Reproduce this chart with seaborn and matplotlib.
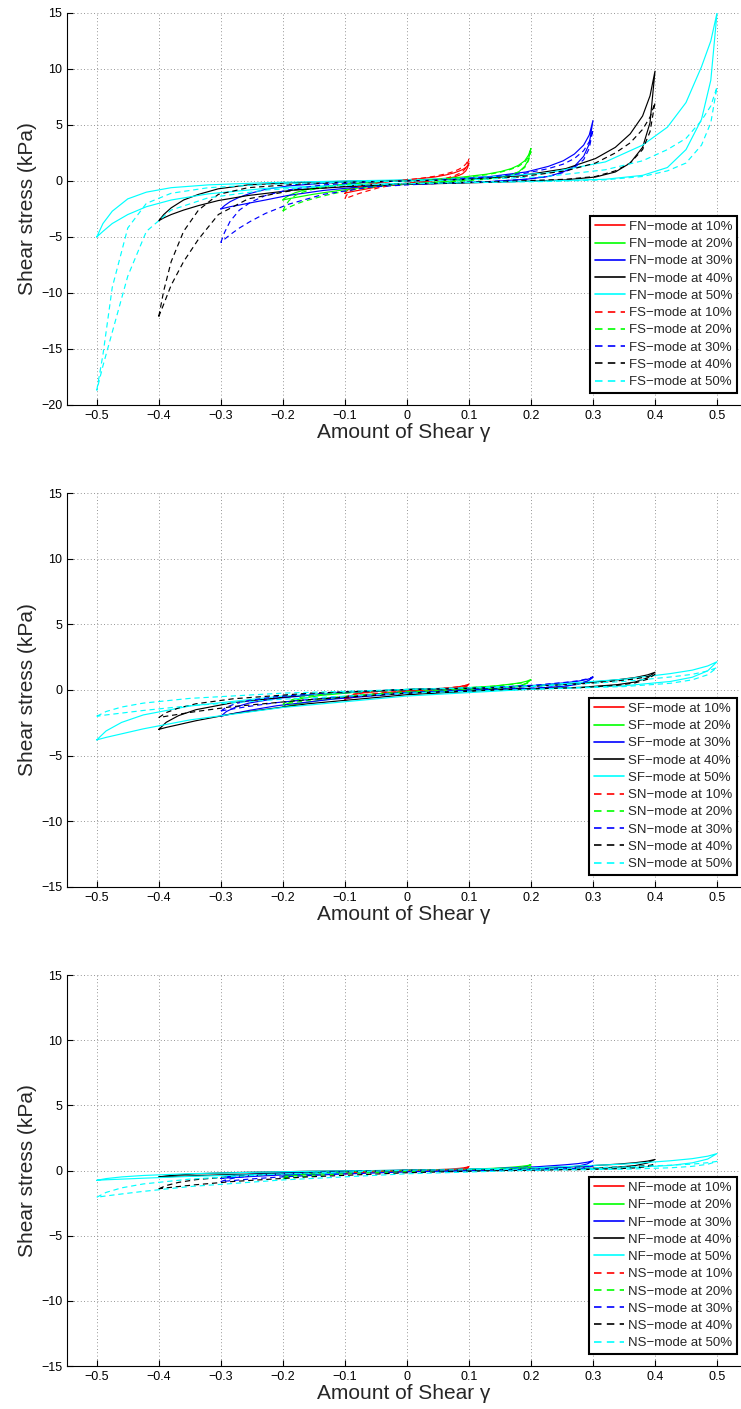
import pandas as pd
import seaborn as sns
import matplotlib.pyplot as plt

amplitudes = [0.1, 0.2, 0.3, 0.4, 0.5]
pct_labels = ['10%', '20%', '30%', '40%', '50%']
colors = ['#ff0000', '#00ff00', '#0000ff', '#000000', '#00ffff']
# where each loop was read, as a fraction of its strain amplitude
frac_fine = [-1, -0.98, -0.95, -0.9, -0.84, -0.76, -0.64, -0.45, -0.2, 0,
             0.2, 0.45, 0.64, 0.76, 0.84, 0.9, 0.95, 0.98, 1]
frac = [-1, -0.97, -0.92, -0.85, -0.7, -0.4, 0, 0.4, 0.7, 0.85, 0.92, 0.97, 1]

# panel 1: FN (solid) / FS (dashed), kPa, upper = loading branch, lower = unloading
fn_upper = [
    [-1.1, -0.95, -0.8, -0.65, -0.52, -0.42, -0.3, -0.15, 0.0, 0.1, 0.2, 0.35, 0.55, 0.72, 0.88, 1.02, 1.2, 1.38, 1.6],
    [-1.7, -1.5, -1.3, -1.05, -0.85, -0.65, -0.45, -0.25, -0.05, 0.05, 0.15, 0.35, 0.6, 0.85, 1.1, 1.4, 1.8, 2.3, 2.9],
    [-2.5, -2.2, -1.85, -1.45, -1.1, -0.75, -0.45, -0.2, 0.0, 0.05, 0.15, 0.4, 0.8, 1.3, 1.8, 2.4, 3.2, 4.1, 5.4],
    [-3.55, -3.0, -2.4, -1.7, -1.2, -0.7, -0.35, -0.15, 0.0, 0.05, 0.15, 0.45, 1.1, 2.0, 3.0, 4.2, 5.8, 7.6, 9.8],
    [-5.0, -3.8, -2.7, -1.6, -1.0, -0.6, -0.35, -0.15, 0.0, 0.1, 0.25, 0.7, 1.7, 3.2, 4.8, 7.0, 10.2, 12.5, 15.0],
]
fn_lower = [
    [-1.1, -1.07, -1.03, -0.97, -0.9, -0.82, -0.7, -0.5, -0.3, -0.2, -0.1, 0.05, 0.2, 0.35, 0.5, 0.65, 0.9, 1.2, 1.6],
    [-1.7, -1.65, -1.58, -1.48, -1.36, -1.2, -1.0, -0.7, -0.4, -0.25, -0.12, 0.05, 0.2, 0.35, 0.55, 0.8, 1.3, 1.9, 2.9],
    [-2.5, -2.42, -2.3, -2.15, -1.95, -1.7, -1.3, -0.85, -0.45, -0.3, -0.2, -0.05, 0.15, 0.4, 0.8, 1.3, 2.2, 3.3, 5.4],
    [-3.55, -3.3, -3.0, -2.6, -2.2, -1.75, -1.3, -0.8, -0.45, -0.3, -0.2, -0.05, 0.1, 0.35, 0.8, 1.6, 3.0, 5.2, 9.8],
    [-5.0, -4.5, -3.8, -3.0, -2.3, -1.7, -1.15, -0.65, -0.35, -0.2, -0.1, 0.0, 0.15, 0.5, 1.2, 2.8, 5.5, 9.0, 15.0],
]
fs_upper = [
    [-1.6, -1.35, -1.1, -0.85, -0.65, -0.5, -0.35, -0.15, 0.0, 0.1, 0.22, 0.42, 0.65, 0.85, 1.05, 1.25, 1.5, 1.75, 2.0],
    [-2.7, -2.2, -1.75, -1.3, -1.0, -0.75, -0.5, -0.25, -0.05, 0.0, 0.1, 0.3, 0.55, 0.8, 1.05, 1.3, 1.7, 2.1, 2.6],
    [-5.5, -4.6, -3.6, -2.6, -1.9, -1.3, -0.8, -0.35, -0.1, 0.0, 0.1, 0.35, 0.7, 1.1, 1.5, 2.0, 2.7, 3.5, 4.6],
    [-12.1, -9.8, -7.2, -4.5, -2.6, -1.2, -0.6, -0.3, -0.1, 0.0, 0.1, 0.35, 0.9, 1.6, 2.5, 3.4, 4.6, 5.7, 7.0],
    [-18.7, -15.5, -9.5, -4.2, -2.0, -1.1, -0.6, -0.3, -0.1, 0.0, 0.1, 0.4, 1.0, 1.8, 2.8, 3.8, 5.4, 6.7, 8.4],
]
fs_lower = [
    [-1.6, -1.55, -1.48, -1.38, -1.25, -1.1, -0.9, -0.6, -0.35, -0.2, -0.1, 0.05, 0.25, 0.45, 0.65, 0.85, 1.15, 1.55, 2.0],
    [-2.7, -2.55, -2.35, -2.1, -1.85, -1.6, -1.25, -0.8, -0.45, -0.3, -0.15, 0.0, 0.15, 0.35, 0.55, 0.8, 1.2, 1.8, 2.6],
    [-5.5, -5.2, -4.8, -4.2, -3.6, -2.9, -2.1, -1.2, -0.55, -0.35, -0.2, -0.05, 0.15, 0.4, 0.75, 1.2, 1.9, 2.9, 4.6],
    [-12.1, -11.0, -9.3, -7.2, -5.2, -3.0, -1.6, -0.8, -0.4, -0.25, -0.15, 0.0, 0.15, 0.4, 0.9, 1.6, 2.8, 4.4, 7.0],
    [-18.7, -16.5, -13.5, -8.5, -4.5, -2.6, -1.5, -0.8, -0.4, -0.25, -0.15, -0.05, 0.1, 0.4, 0.9, 1.6, 3.2, 5.2, 8.4],
]

# panel 2: SF (solid) / SN (dashed)
sf_upper = [
    [-0.70, -0.57, -0.46, -0.35, -0.22, -0.08, 0.02, 0.07, 0.17, 0.26, 0.32, 0.38, 0.45],
    [-1.3, -1.07, -0.85, -0.65, -0.42, -0.16, 0.03, 0.12, 0.30, 0.46, 0.56, 0.68, 0.8],
    [-2.0, -1.64, -1.30, -1.0, -0.64, -0.24, 0.03, 0.14, 0.36, 0.55, 0.67, 0.81, 0.95],
    [-3.0, -2.46, -1.95, -1.5, -0.96, -0.36, 0.04, 0.20, 0.51, 0.78, 0.95, 1.15, 1.35],
    [-3.8, -3.12, -2.47, -1.9, -1.22, -0.46, 0.05, 0.32, 0.82, 1.25, 1.51, 1.83, 2.15],
]
sf_lower = [
    [-0.70, -0.67, -0.62, -0.55, -0.42, -0.25, -0.08, 0.01, 0.07, 0.14, 0.20, 0.31, 0.45],
    [-1.3, -1.24, -1.14, -1.01, -0.78, -0.46, -0.16, 0.02, 0.12, 0.24, 0.36, 0.54, 0.8],
    [-2.0, -1.90, -1.76, -1.56, -1.2, -0.70, -0.24, 0.03, 0.14, 0.29, 0.43, 0.65, 0.95],
    [-3.0, -2.85, -2.64, -2.34, -1.8, -1.05, -0.36, 0.04, 0.20, 0.41, 0.61, 0.92, 1.35],
    [-3.8, -3.61, -3.34, -2.96, -2.28, -1.33, -0.46, 0.06, 0.32, 0.65, 0.97, 1.46, 2.15],
]
sn_upper = [
    [-0.60, -0.49, -0.39, -0.30, -0.19, -0.07, 0.02, 0.07, 0.17, 0.26, 0.32, 0.38, 0.45],
    [-1.1, -0.90, -0.72, -0.55, -0.35, -0.13, 0.03, 0.11, 0.29, 0.44, 0.53, 0.64, 0.75],
    [-1.6, -1.31, -1.04, -0.80, -0.51, -0.19, 0.03, 0.15, 0.38, 0.58, 0.70, 0.85, 1.0],
    [-2.1, -1.72, -1.37, -1.05, -0.67, -0.25, 0.03, 0.18, 0.46, 0.70, 0.84, 1.02, 1.2],
    [-2.0, -1.64, -1.30, -1.0, -0.64, -0.24, 0.04, 0.26, 0.65, 0.99, 1.19, 1.45, 1.7],
]
sn_lower = [
    [-0.60, -0.57, -0.53, -0.47, -0.36, -0.21, -0.07, 0.01, 0.07, 0.14, 0.20, 0.31, 0.45],
    [-1.1, -1.05, -0.97, -0.86, -0.66, -0.39, -0.13, 0.02, 0.11, 0.23, 0.34, 0.51, 0.75],
    [-1.6, -1.52, -1.41, -1.25, -0.96, -0.56, -0.19, 0.03, 0.15, 0.30, 0.45, 0.68, 1.0],
    [-2.1, -2.0, -1.85, -1.64, -1.26, -0.74, -0.25, 0.04, 0.18, 0.36, 0.54, 0.82, 1.2],
    [-2.0, -1.90, -1.76, -1.56, -1.2, -0.70, -0.24, 0.05, 0.26, 0.51, 0.77, 1.16, 1.7],
]

# panel 3: NF (solid) / NS (dashed)
nf_upper = [
    [-0.2, -0.16, -0.13, -0.10, -0.06, -0.02, 0.01, 0.05, 0.11, 0.17, 0.21, 0.26, 0.3],
    [-0.45, -0.37, -0.29, -0.22, -0.14, -0.05, 0.01, 0.07, 0.17, 0.26, 0.32, 0.38, 0.45],
    [-0.6, -0.49, -0.39, -0.3, -0.19, -0.07, 0.02, 0.11, 0.29, 0.44, 0.53, 0.64, 0.75],
    [-0.5, -0.41, -0.33, -0.25, -0.16, -0.06, 0.02, 0.13, 0.32, 0.49, 0.6, 0.72, 0.85],
    [-0.75, -0.62, -0.49, -0.38, -0.24, -0.09, 0.03, 0.2, 0.49, 0.75, 0.91, 1.1, 1.3],
]
nf_lower = [
    [-0.2, -0.19, -0.18, -0.16, -0.12, -0.07, -0.02, 0.01, 0.05, 0.09, 0.14, 0.2, 0.3],
    [-0.45, -0.43, -0.4, -0.35, -0.27, -0.16, -0.05, 0.01, 0.07, 0.14, 0.2, 0.31, 0.45],
    [-0.6, -0.57, -0.53, -0.47, -0.36, -0.21, -0.07, 0.02, 0.11, 0.23, 0.34, 0.51, 0.75],
    [-0.5, -0.48, -0.44, -0.39, -0.3, -0.18, -0.06, 0.03, 0.13, 0.26, 0.38, 0.58, 0.85],
    [-0.75, -0.71, -0.66, -0.59, -0.45, -0.26, -0.09, 0.04, 0.2, 0.39, 0.59, 0.88, 1.3],
]
ns_upper = [
    [-0.25, -0.2, -0.16, -0.12, -0.08, -0.03, 0.01, 0.02, 0.06, 0.09, 0.11, 0.13, 0.15],
    [-0.6, -0.49, -0.39, -0.3, -0.19, -0.07, 0.01, 0.04, 0.1, 0.15, 0.18, 0.21, 0.25],
    [-0.85, -0.7, -0.55, -0.43, -0.27, -0.1, 0.01, 0.05, 0.13, 0.2, 0.25, 0.3, 0.35],
    [-1.4, -1.15, -0.91, -0.7, -0.45, -0.17, 0.01, 0.07, 0.17, 0.26, 0.32, 0.38, 0.45],
    [-2.05, -1.68, -1.33, -1.03, -0.66, -0.25, 0.02, 0.1, 0.27, 0.41, 0.49, 0.6, 0.7],
]
ns_lower = [
    [-0.25, -0.24, -0.22, -0.2, -0.15, -0.09, -0.03, 0.0, 0.02, 0.05, 0.07, 0.1, 0.15],
    [-0.6, -0.57, -0.53, -0.47, -0.36, -0.21, -0.07, 0.0, 0.04, 0.08, 0.11, 0.17, 0.25],
    [-0.85, -0.81, -0.75, -0.66, -0.51, -0.3, -0.1, 0.01, 0.05, 0.11, 0.16, 0.24, 0.35],
    [-1.4, -1.33, -1.23, -1.09, -0.84, -0.49, -0.17, 0.01, 0.07, 0.14, 0.2, 0.31, 0.45],
    [-2.05, -1.95, -1.8, -1.6, -1.23, -0.72, -0.25, 0.02, 0.1, 0.21, 0.32, 0.48, 0.7],
]

x_ticks = [-0.5, -0.4, -0.3, -0.2, -0.1, 0, 0.1, 0.2, 0.3, 0.4, 0.5]
x_ticklabels = ['\u22120.5', '\u22120.4', '\u22120.3', '\u22120.2', '\u22120.1', '0',
                '0.1', '0.2', '0.3', '0.4', '0.5']

sns.set_style('ticks')
plt.rcParams['font.family'] = ['Liberation Sans', 'DejaVu Sans']

DASH = (0, (4.5, 3.2))


def draw_loops(ax, upper, lower, style, fr):
    """ one closed loop per amplitude: loading branch then unloading branch back """
    handles = []
    for amp, up, lo, col in zip(amplitudes, upper, lower, colors):
        xs = [f * amp for f in fr]
        loop = pd.DataFrame({'x': xs + xs[::-1], 'y': up + lo[::-1]})
        sns.lineplot(data=loop, x='x', y='y', sort=False, estimator=None,
                     color=col, linestyle=style, linewidth=0.85, ax=ax)
        handles.append(ax.lines[-1])
    return handles


def style_axes(ax, ylim, yticks):
    ax.set_xlim(-0.548, 0.537)
    ax.set_ylim(*ylim)
    ax.set_xticks(x_ticks)
    ax.set_xticklabels(x_ticklabels)
    ax.set_yticks(yticks)
    ax.set_yticklabels([str(t).replace('-', '\u2212') for t in yticks])
    ax.grid(True, linestyle=(0, (1, 3)), color='0.45', linewidth=0.6)
    ax.tick_params(direction='in', length=4, width=0.8, labelsize=9, colors='black')
    for side in ['top', 'right']:
        ax.spines[side].set_visible(False)
    for side in ['left', 'bottom']:
        ax.spines[side].set_color('black')
        ax.spines[side].set_linewidth(0.8)
    ax.set_xlabel('Amount of Shear \u03b3', fontsize=15, labelpad=1)
    ax.set_ylabel('Shear stress (kPa)', fontsize=15, labelpad=3)


fig = plt.figure(figsize=(7.41, 14.09), dpi=100)
panels = [
    ([0.0904, 0.7126, 0.9082, 0.2782], fn_upper, fn_lower, fs_upper, fs_lower, 'FN', 'FS', (-20, 15), frac_fine),
    ([0.0904, 0.3705, 0.9082, 0.2796], sf_upper, sf_lower, sn_upper, sn_lower, 'SF', 'SN', (-15, 15), frac),
    ([0.0904, 0.0305, 0.9082, 0.2775], nf_upper, nf_lower, ns_upper, ns_lower, 'NF', 'NS', (-15, 15), frac),
]

for rect, s_up, s_lo, d_up, d_lo, solid_name, dash_name, ylim, fr in panels:
    ax = fig.add_axes(rect)
    handles = draw_loops(ax, s_up, s_lo, '-', fr)
    handles += draw_loops(ax, d_up, d_lo, DASH, fr)
    style_axes(ax, ylim, list(range(ylim[0], ylim[1] + 1, 5)))
    labels = [f'{solid_name}\u2212mode at {p}' for p in pct_labels] + \
             [f'{dash_name}\u2212mode at {p}' for p in pct_labels]
    leg = ax.legend(handles, labels, loc='lower right',
                    bbox_to_anchor=(0.996, 0.031), borderaxespad=0,
                    fontsize=9.5, handlelength=2.3, handletextpad=0.3,
                    labelspacing=0.38, borderpad=0.35, fancybox=False,
                    framealpha=1, edgecolor='black')
    leg.get_frame().set_linewidth(1.5)
    for line in leg.get_lines():
        line.set_linewidth(1.2)

fig.savefig('out.png', dpi=100)
